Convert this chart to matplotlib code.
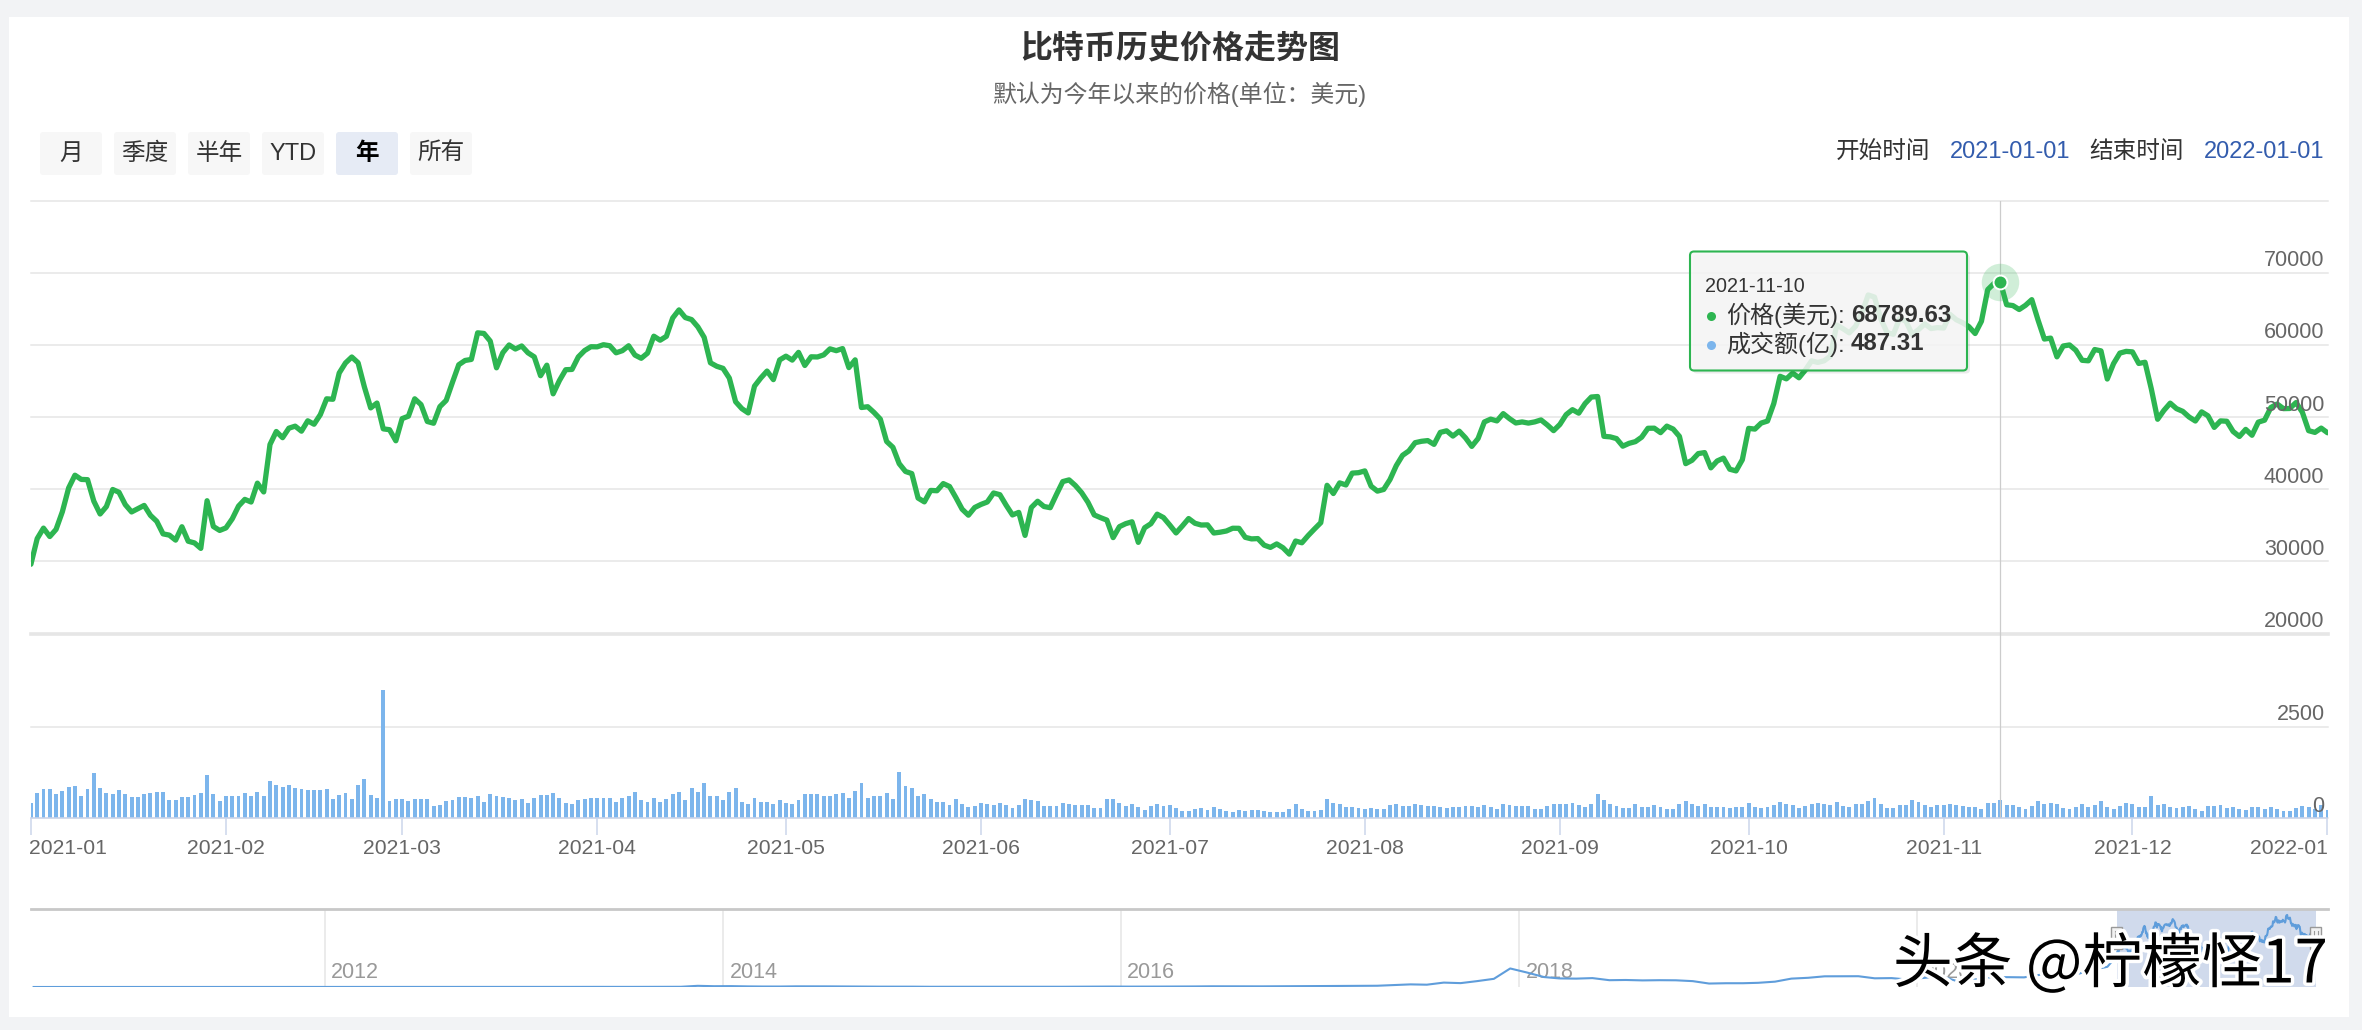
import datetime as dt
import matplotlib
matplotlib.use("Agg")
import matplotlib.pyplot as plt
import matplotlib.dates as mdates
import matplotlib.patheffects as pe
from matplotlib.patches import Rectangle, FancyBboxPatch
from matplotlib.transforms import blended_transform_factory

plt.rcParams['font.family'] = ['Liberation Sans', 'Noto Sans CJK SC']

# ---------------- data ----------------
title = "比特币历史价格走势图"
subtitle = "默认为今年以来的价格(单位：美元)"
range_buttons = ["月", "季度", "半年", "YTD", "年", "所有"]
selected_button = "年"
start_label, start_value = "开始时间", "2021-01-01"
end_label, end_value = "结束时间", "2022-01-01"

series_start = "2021-01-01"   # daily series, one value per day
price_jan = [29600, 33155, 34608, 33440, 34437, 36879, 40180, 41946, 41362, 41327, 38346, 36568, 37599, 39966, 39577, 37864,
             36852, 37299, 37755, 36378, 35552, 33811, 33640, 32944, 34802, 32794, 32557, 31800, 38407, 34834, 34288]
price_feb = [34638, 35896, 37663, 38592, 38225, 40846, 39621, 46203, 48003, 47145, 48463, 48745, 48047, 49487, 49010, 50341,
             52533, 52474, 56113, 57505, 58330, 57533, 54184, 51274, 51948, 48370, 48253, 46716]
price_mar = [49790, 50127, 52535, 51735, 49394, 49147, 51450, 52314, 54824, 57258, 57850, 57996, 61684, 61597, 60540, 56833,
             58930, 60000, 59439, 59859, 58915, 58351, 55738, 57200, 53229, 55073, 56568, 56610, 58341, 59223, 59755]
price_apr = [59740, 60036, 59891, 58913, 59209, 59891, 58600, 58153, 58869, 61218, 60658, 61199, 63735, 64863, 63800, 63520,
             62507, 61057, 57526, 57046, 56757, 55410, 52131, 51166, 50578, 54288, 55416, 56385, 55194, 57925]
price_may = [58448, 57900, 58973, 57158, 58360, 58335, 58625, 59464, 59210, 59500, 56862, 57939, 51330, 51438, 50640, 49720,
             46623, 45812, 43546, 42462, 42172, 38776, 38248, 39836, 39791, 40782, 40379, 38856, 37234, 36400, 37468]
price_jun = [37896, 38231, 39478, 39242, 37779, 36436, 36790, 33600, 37468, 38334, 37608, 37439, 39289, 41064, 41295, 40516,
             39513, 38187, 36438, 36059, 35721, 33292, 34810, 35228, 35487, 32637, 34656, 35219, 36542, 36074]
price_jul = [35035, 33939, 34909, 35937, 35284, 35038, 35060, 33929, 34043, 34209, 34592, 34581, 33331, 33115, 33159, 32249,
             31935, 32420, 31885, 31006, 32819, 32576, 33581, 34490, 35364, 40545, 39406, 40879, 40593, 42235, 42294]
price_aug = [42541, 40419, 39737, 39969, 41341, 43271, 44702, 45310, 46454, 46645, 46743, 46218, 47884, 48098, 47372, 48053,
             47127, 45941, 47029, 49328, 49717, 49471, 50482, 49782, 49185, 49330, 49169, 49334, 49608, 48913, 48123]
price_sep = [48982, 50343, 51033, 50545, 51868, 52781, 52853, 47334, 47261, 47020, 45969, 46364, 46598, 47218, 48450, 48463,
             47844, 48747, 48345, 47328, 43548, 44011, 44942, 45080, 42965, 43919, 44313, 42775, 42541, 44092]
price_oct = [48436, 48337, 49175, 49452, 51887, 55657, 55301, 56100, 55451, 56512, 57794, 57580, 57807, 58463, 62757, 62257,
             61681, 62598, 64434, 66931, 66639, 63624, 61716, 61476, 63678, 63294, 61444, 62128, 62924, 62274, 62406]
price_nov = [62344, 64242, 63500, 63086, 62541, 61590, 63286, 67673, 68530, 68789.63, 65579, 65460, 64915, 65495, 66281, 63444,
             60823, 60948, 58352, 59859, 60004, 59266, 57875, 57804, 59367, 59183, 55280, 57423, 58872, 59113]
price_dec = [59041, 57439, 57600, 53904, 49699, 50929, 51934, 51171, 50797, 50015, 49458, 50724, 50181, 48574, 49473, 49425,
             48004, 47313, 48298, 47485, 49300, 49576, 51332, 51814, 51176, 51196, 52016, 50679, 48119, 47879, 48472]
price_jan22 = [47827]

vol_jan = [407, 679, 787, 812, 675, 753, 848, 881, 616, 791, 1233, 830, 694, 676, 785, 655, 578, 571, 661, 683, 730, 724,
           512, 490, 582, 590, 639, 683, 1179, 651, 484]
vol_feb = [612, 618, 612, 688, 613, 709, 605, 1010, 898, 860, 918, 833, 786, 771, 771, 770, 808, 521, 635, 681, 519, 921,
           1061, 637, 549, 3510, 459, 534]
vol_mar = [539, 475, 534, 525, 532, 344, 351, 483, 495, 568, 576, 552, 607, 439, 664, 597, 576, 557, 491, 520, 410, 545,
           643, 628, 703, 560, 423, 391, 501, 532, 563]
vol_apr = [550, 547, 562, 434, 545, 612, 706, 497, 451, 553, 431, 515, 672, 712, 498, 826, 707, 976, 610, 621, 506, 721,
           825, 441, 384, 556, 449, 448, 395, 497]
vol_may = [412, 389, 503, 662, 660, 661, 607, 612, 662, 703, 556, 752, 967, 552, 610, 612, 703, 521, 1262, 880, 818, 604,
           671, 523, 434, 454, 371, 531, 402, 318, 340]
vol_jun = [410, 382, 370, 412, 351, 270, 353, 519, 510, 480, 331, 340, 335, 420, 380, 350, 351, 360, 272, 290, 520, 523,
           410, 331, 390, 310, 240, 330, 380, 340]
vol_jul = [360, 270, 210, 210, 260, 270, 240, 320, 260, 200, 170, 240, 210, 240, 220, 200, 180, 160, 170, 260, 380, 250,
           210, 210, 240, 520, 430, 380, 310, 300, 270]
vol_aug = [250, 270, 260, 260, 350, 380, 330, 330, 390, 350, 330, 330, 320, 290, 300, 300, 340, 330, 320, 350, 320, 260,
           380, 360, 330, 330, 330, 260, 250, 330, 390]
vol_sep = [390, 390, 430, 370, 300, 390, 650, 490, 390, 340, 290, 270, 390, 300, 300, 350, 300, 260, 250, 390, 480, 390,
           340, 400, 310, 300, 300, 290, 300, 310]
vol_oct = [420, 320, 270, 320, 360, 450, 380, 370, 280, 340, 400, 410, 400, 370, 440, 330, 310, 380, 400, 460, 550, 400,
           280, 270, 360, 360, 490, 450, 360, 300, 370]
vol_nov = [360, 380, 360, 330, 310, 310, 250, 410, 420, 487.31, 360, 370, 300, 250, 340, 460, 390, 410, 400, 290, 260, 320,
           380, 310, 350, 480, 300, 260, 340, 420]
vol_dec = [380, 320, 320, 610, 370, 390, 320, 290, 300, 330, 250, 210, 330, 330, 360, 270, 320, 250, 230, 310, 300, 260,
           300, 260, 190, 210, 280, 340, 300, 260, 370]
vol_jan22 = [240]

month_ticks = ["2021-01", "2021-02", "2021-03", "2021-04", "2021-05", "2021-06", "2021-07",
               "2021-08", "2021-09", "2021-10", "2021-11", "2021-12", "2022-01"]
price_ticks = [20000, 30000, 40000, 50000, 60000, 70000]
price_grid = [30000, 40000, 50000, 60000, 70000, 80000]
vol_ticks = [0, 2500]

tooltip_date = "2021-11-10"
tooltip_price = "68789.63"
tooltip_vol = "487.31"

# navigator: long history, mid-month levels from 2010-07 to 2020-12
hist_start = (2010, 7)
hist_2010 = [0.07, 0.07, 0.06, 0.19, 0.21, 0.30]
hist_2011 = [0.52, 0.86, 0.78, 3.5, 8.7, 16.1, 13.4, 8.2, 5.1, 3.3, 3.0, 4.7]
hist_2012 = [5.5, 4.9, 4.9, 5.0, 5.1, 6.7, 9.3, 10.2, 12.4, 11.2, 12.6, 13.5]
hist_2013 = [20, 33, 93, 139, 129, 97, 106, 141, 133, 206, 1130, 754]
hist_2014 = [829, 573, 457, 448, 630, 641, 586, 478, 387, 338, 378, 320]
hist_2015 = [217, 254, 244, 236, 230, 263, 285, 231, 236, 314, 377, 430]
hist_2016 = [368, 437, 416, 448, 531, 674, 624, 575, 609, 698, 742, 963]
hist_2017 = [900, 1000, 1200, 1200, 1800, 2500, 2200, 4200, 3700, 5600, 7800, 17700]
hist_2018 = [13800, 9500, 8200, 8000, 8500, 6500, 6700, 6300, 6500, 6400, 5600, 3300]
hist_2019 = [3600, 3600, 4000, 5100, 8000, 8800, 10200, 10300, 10300, 8300, 8500, 7100]
hist_2020 = [8800, 10300, 5400, 7100, 9400, 9400, 9200, 11800, 10700, 11500, 16000, 19300]
nav_years = ["2012", "2014", "2016", "2018", "2020"]

watermark = "头条 @柠檬怪17"

# ---------------- styling ----------------
W, H, DPI = 2362, 1030, 100
GREEN = "#2db551"
BAR = "#7cb5ec"
GRID = "#e6e6e6"
LABEL = "#666666"

price = (price_jan + price_feb + price_mar + price_apr + price_may + price_jun + price_jul +
         price_aug + price_sep + price_oct + price_nov + price_dec + price_jan22)
vol = (vol_jan + vol_feb + vol_mar + vol_apr + vol_may + vol_jun + vol_jul +
       vol_aug + vol_sep + vol_oct + vol_nov + vol_dec + vol_jan22)
d0 = dt.date.fromisoformat(series_start)
dates = [d0 + dt.timedelta(days=i) for i in range(len(price))]
dnum = mdates.date2num(dates)
n = min(len(vol), len(dnum))

hist_vals = (hist_2010 + hist_2011 + hist_2012 + hist_2013 + hist_2014 + hist_2015 + hist_2016 +
             hist_2017 + hist_2018 + hist_2019 + hist_2020)
hist_dates = []
y, m = hist_start
for _ in hist_vals:
    hist_dates.append(dt.date(y, m, 15))
    m += 1
    if m > 12:
        m = 1
        y += 1
nav_x = list(mdates.date2num(hist_dates)) + list(dnum)
nav_y = hist_vals + price


def rect(x0, y0, x1, y1):
    return [x0 / W, 1 - y1 / H, (x1 - x0) / W, (y1 - y0) / H]


fig = plt.figure(figsize=(W / DPI, H / DPI), dpi=DPI, facecolor="#f2f3f5")

bg = fig.add_axes([0, 0, 1, 1], zorder=-10)
bg.set_xlim(0, W)
bg.set_ylim(H, 0)
bg.axis("off")
bg.add_patch(Rectangle((9, 17), 2340, 1000, facecolor="white", edgecolor="none"))

X0, X1 = 30.9, 2327.5
xlo = mdates.date2num(dt.date(2021, 1, 1))
xhi = mdates.date2num(dt.date(2022, 1, 1))
cross = mdates.date2num(dt.date.fromisoformat(tooltip_date))

# ---- price panel ----
ax_p = fig.add_axes(rect(X0, 200.7, X1, 633.5))
ax_p.set_facecolor("none")
for s in ax_p.spines.values():
    s.set_visible(False)
ax_p.set_xlim(xlo, xhi)
ax_p.set_ylim(20000, 80000)
ax_p.set_xticks([])
ax_p.set_yticks([])
for v in price_grid:
    ax_p.axhline(v, color=GRID, lw=1.1, zorder=1, clip_on=False)
ax_p.axhline(20000, color=GRID, lw=2.6, zorder=1, clip_on=False)
for v in price_ticks:
    ax_p.annotate(str(v), xy=(1, v), xycoords=("axes fraction", "data"), xytext=(-3, 12),
                  textcoords="offset pixels", ha="right", va="center", fontsize=15.5, color=LABEL, zorder=6)
ax_p.axvline(cross, color="#cccccc", lw=0.9, zorder=2)
ax_p.plot(dnum, price, color=GREEN, lw=3.8, solid_joinstyle="round", solid_capstyle="round", zorder=3)
ci = list(dnum).index(cross)
ax_p.plot([cross], [price[ci]], "o", ms=27, color=GREEN, alpha=0.22, mec="none", zorder=4)
ax_p.plot([cross], [price[ci]], "o", ms=10, color=GREEN, mec="white", mew=1.4, zorder=5)

# ---- volume panel ----
ax_v = fig.add_axes(rect(X0, 633.5, X1, 818.3))
ax_v.set_facecolor("none")
for k, s in ax_v.spines.items():
    s.set_visible(k == "bottom")
ax_v.spines["bottom"].set_color("#ccd6eb")
ax_v.spines["bottom"].set_linewidth(1.1)
ax_v.set_xlim(xlo, xhi)
ax_v.set_ylim(0, 5040)
ax_v.set_yticks([])
for v in vol_ticks:
    ax_v.axhline(v, color=GRID, lw=1.1, zorder=1, clip_on=False)
    ax_v.annotate(str(v), xy=(1, v), xycoords=("axes fraction", "data"), xytext=(-3, 12),
                  textcoords="offset pixels", ha="right", va="center", fontsize=15.5, color=LABEL, zorder=6)
ax_v.bar(dnum[:n], vol[:n], width=0.62, color=BAR, zorder=2)
ax_v.axvline(cross, color="#cccccc", lw=0.9, zorder=3)
tick_pos = [mdates.date2num(dt.date(int(t[:4]), int(t[5:]), 1)) for t in month_ticks]
ax_v.set_xticks(tick_pos)
ax_v.tick_params(axis="x", length=12, width=1.1, color="#ccd6eb", labelbottom=False, direction="out")
for i, (p, t) in enumerate(zip(tick_pos, month_ticks)):
    ha = "left" if i == 0 else ("right" if i == len(month_ticks) - 1 else "center")
    dx = -2 if i == 0 else 0
    ax_v.annotate(t, xy=(p, 0), xycoords=("data", "axes fraction"), xytext=(dx, -30),
                  textcoords="offset pixels", ha=ha, va="center", fontsize=15.2, color=LABEL,
                  annotation_clip=False)

# ---- navigator ----
ax_n = fig.add_axes(rect(X0, 909, X1, 987))
ax_n.set_facecolor("none")
for s in ax_n.spines.values():
    s.set_visible(False)
nlo = mdates.date2num(dt.date(2010, 7, 10))
nhi = mdates.date2num(dt.date(2022, 1, 23))
ax_n.set_xlim(nlo, nhi)
ax_n.set_ylim(0, 74500)
ax_n.set_xticks([])
ax_n.set_yticks([])
for yl in nav_years:
    yp = mdates.date2num(dt.date(int(yl), 1, 1))
    ax_n.axvline(yp, color=GRID, lw=1.1, zorder=1)
    ax_n.annotate(yl, xy=(yp, 0.19), xycoords=("data", "axes fraction"), xytext=(6, 0),
                  textcoords="offset pixels", ha="left", va="center", fontsize=15.5, color="#999999")
trn = blended_transform_factory(ax_n.transData, ax_n.transAxes)
ax_n.add_patch(Rectangle((xlo, 0), xhi - xlo, 1, transform=trn, facecolor="#6685c2", alpha=0.3,
                         edgecolor="none", zorder=2))
ax_n.plot(nav_x, nav_y, color="#5f9ddb", lw=1.5, zorder=3)
ax_n.plot([0, 1], [1, 1], transform=ax_n.transAxes, color="#c8c8c8", lw=2.0, clip_on=False, zorder=4)

# ---- overlay (titles, buttons, tooltip, watermark) ----
ov = fig.add_axes([0, 0, 1, 1], zorder=10)
ov.set_xlim(0, W)
ov.set_ylim(H, 0)
ov.axis("off")

ov.text(1180, 49, title, ha="center", va="center", fontsize=23, fontweight="bold", color="#333333")
ov.text(1179, 94, subtitle, ha="center", va="center", fontsize=17.2, color="#666666")

for i, lab in enumerate(range_buttons):
    bx = 40 + 74 * i
    sel = lab == selected_button
    ov.add_patch(FancyBboxPatch((bx, 132), 62, 43, boxstyle="round,pad=0,rounding_size=3",
                                facecolor="#e6ebf5" if sel else "#f7f7f7", edgecolor="none"))
    ov.text(bx + 31, 154, lab, ha="center", va="center", fontsize=17,
            fontweight="bold" if sel else "normal", color="#000000" if sel else "#333333")

ov.text(1836, 152, start_label, ha="left", va="center", fontsize=17, color="#333333")
ov.text(1950, 152, start_value, ha="left", va="center", fontsize=17, color="#335cad")
ov.text(2089, 152, end_label, ha="left", va="center", fontsize=17, color="#333333")
ov.text(2204, 152, end_value, ha="left", va="center", fontsize=17, color="#335cad")

# handles of navigator selection
for d in (xlo, xhi):
    px = ax_n.transData.transform((d, 0))[0]
    ov.add_patch(Rectangle((px - 5.5, 927), 11, 22, facecolor="#f2f2f2", edgecolor="#999999", lw=1.0))
    for off in (-2, 2):
        ov.plot([px + off, px + off], [931, 945], color="#999999", lw=0.8)

# tooltip
ov.add_patch(FancyBboxPatch((1693, 254.5), 277, 119, boxstyle="round,pad=0,rounding_size=4",
                            facecolor=(0, 0, 0, 0.08), edgecolor="none"))
ov.add_patch(FancyBboxPatch((1690, 251.5), 277, 119, boxstyle="round,pad=0,rounding_size=4",
                            facecolor=(0.969, 0.969, 0.969, 0.87), edgecolor=GREEN, lw=1.5))
ov.text(1705, 286, tooltip_date, ha="left", va="center", fontsize=14.2, color="#333333")
ov.plot([1711], [316], "o", ms=6.5, color=GREEN, mec="none")
t1 = ov.text(1726, 315, "价格(美元):", ha="left", va="center", fontsize=17.3, color="#333333")
ov.annotate(tooltip_price, xy=(1, 0.5), xycoords=t1, xytext=(6, 0), textcoords="offset pixels",
            ha="left", va="center", fontsize=17.3, fontweight="bold", color="#333333")
ov.plot([1711], [345], "o", ms=6.5, color=BAR, mec="none")
t2 = ov.text(1726, 344, "成交额(亿):", ha="left", va="center", fontsize=17.3, color="#333333")
ov.annotate(tooltip_vol, xy=(1, 0.5), xycoords=t2, xytext=(6, 0), textcoords="offset pixels",
            ha="left", va="center", fontsize=17.3, fontweight="bold", color="#333333")

ov.text(1893, 966, watermark, ha="left", va="center", fontsize=43, color="black",
        family=["Noto Sans CJK SC", "DejaVu Sans"],
        path_effects=[pe.withStroke(linewidth=5, foreground="white")])

fig.savefig("out.png", dpi=DPI, facecolor=fig.get_facecolor())
